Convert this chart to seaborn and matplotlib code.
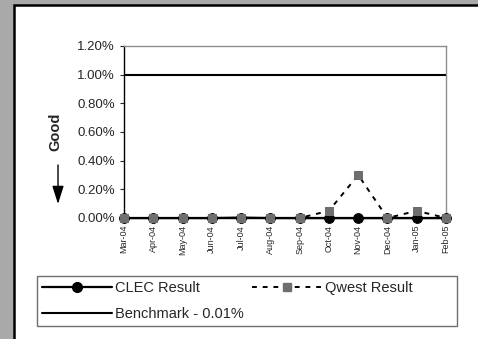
import numpy as np
import pandas as pd
import matplotlib
matplotlib.use("Agg")
import matplotlib.pyplot as plt
import seaborn as sns
from matplotlib.patches import Rectangle, FancyArrowPatch
from matplotlib.lines import Line2D
from matplotlib.ticker import FuncFormatter

months = ['Mar-04', 'Apr-04', 'May-04', 'Jun-04', 'Jul-04', 'Aug-04',
          'Sep-04', 'Oct-04', 'Nov-04', 'Dec-04', 'Jan-05', 'Feb-05']
clec_result = [0.0, 0.0, 0.0, 0.0, 0.00003, 0.0, 0.0, 0.0, 0.0, 0.0, 0.0, 0.0]
qwest_result = [0.0, 0.0, 0.0, 0.0, 0.0, 0.0, 0.0, 0.0005, 0.0030, 0.0, 0.0005, 0.0]
benchmark = [0.01] * len(months)

sns.set_style("white")
plt.rcParams['font.family'] = ['Liberation Sans', 'DejaVu Sans']

df = pd.DataFrame({'pos': np.arange(len(months)), 'month': months,
                   'CLEC': clec_result, 'Qwest': qwest_result, 'Bench': benchmark})

fig = plt.figure(figsize=(4.78, 3.39), dpi=100)
fig.patch.set_facecolor('#a9a9a9')
# white panel with dark border, behind everything
fig.patches.append(Rectangle((14 / 478, -0.01), 1.0, 1 - 5 / 339 + 0.01,
                             transform=fig.transFigure, facecolor='white',
                             edgecolor='black', linewidth=1.8, zorder=-5))
# legend frame
fig.patches.append(Rectangle((37 / 478, 1 - 326 / 339), 420 / 478, 50 / 339,
                             transform=fig.transFigure, facecolor='white',
                             edgecolor='#6e6e6e', linewidth=1.0, zorder=-4))

ax = fig.add_axes([124 / 478, 1 - 218 / 339, 322 / 478, 172 / 339])
ax.set_facecolor('white')

sns.lineplot(data=df, x='pos', y='Bench', ax=ax, color='black', linewidth=1.5)
sns.lineplot(data=df, x='pos', y='CLEC', ax=ax, color='black', linewidth=1.6,
             marker='o', markersize=7, markeredgecolor='black', clip_on=False, zorder=4)
sns.lineplot(data=df, x='pos', y='Qwest', ax=ax, color='black', linewidth=1.4,
             linestyle=(0, (2.5, 3)), marker='s', markersize=5.6,
             markerfacecolor='#6e6e6e', markeredgecolor='#6e6e6e', clip_on=False, zorder=5)

ax.set_xlim(0, len(months) - 1)
ax.set_ylim(0, 0.012)
ax.set_yticks(np.arange(0, 0.0121, 0.002))
ax.yaxis.set_major_formatter(FuncFormatter(lambda v, p: f"{v * 100:.2f}%"))
ax.set_xticks(df['pos'])
ax.set_xticklabels(months, rotation=90, fontsize=6.5)
ax.tick_params(axis='y', labelsize=9.5, length=3, width=0.8, direction='out', left=True, pad=3.5)
ax.tick_params(axis='x', length=0, pad=5)
ax.set_xlabel('')
ax.set_ylabel('')

for side in ['left', 'bottom']:
    ax.spines[side].set_color('black')
    ax.spines[side].set_linewidth(1.0)
for side in ['top', 'right']:
    ax.spines[side].set_color('#8c8c8c')
    ax.spines[side].set_linewidth(1.0)

fig.text(55 / 478, 1 - 132 / 339, 'Good', rotation=90, fontsize=10.5,
         fontweight='bold', ha='center', va='center')
fig.add_artist(FancyArrowPatch(
    (58 / 478, 1 - 165 / 339), (58 / 478, 1 - 204 / 339),
    transform=fig.transFigure, arrowstyle='-|>,head_width=3.5,head_length=11',
    color='black', lw=1.0, shrinkA=0, shrinkB=0))

handles = [
    Line2D([], [], color='black', linewidth=1.6, marker='o', markersize=7),
    Line2D([], [], color='black', linewidth=1.5),
    Line2D([], [], color='black', linewidth=1.4, linestyle=(0, (2.5, 3)), marker='s',
           markersize=5.6, markerfacecolor='#6e6e6e', markeredgecolor='#6e6e6e'),
]
labels = ['CLEC Result', 'Benchmark - 0.01%', 'Qwest Result']
leg = fig.legend(handles, labels, ncol=2, loc='upper left',
                 bbox_to_anchor=(42 / 478, 1 - 281 / 339),
                 fontsize=10.5, frameon=False,
                 handlelength=4.8, handletextpad=0.2, borderpad=0,
                 labelspacing=0.8, columnspacing=0.55, borderaxespad=0)

fig.savefig('out.png', dpi=100, facecolor=fig.get_facecolor())
